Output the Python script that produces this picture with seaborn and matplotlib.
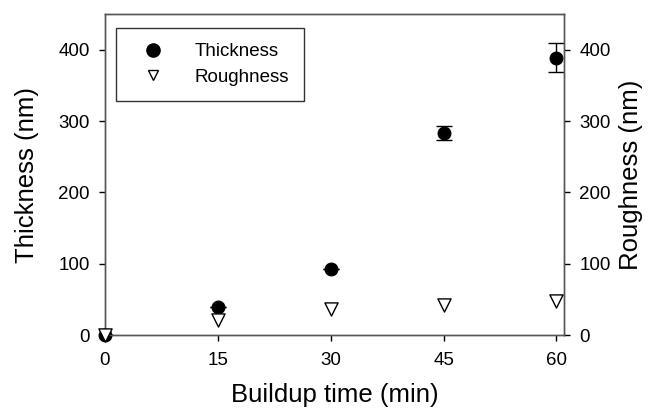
import numpy as np
import pandas as pd
import matplotlib
matplotlib.use("Agg")
import matplotlib.pyplot as plt
import seaborn as sns
from matplotlib.lines import Line2D

# datos
tiempo = [0, 15, 30, 45, 60]
espesor = [0, 39, 92, 283, 389]
espesor_err = [0, 0, 0, 10, 21]
rugosidad = [0, 21, 37, 42, 47]

df = pd.DataFrame({"tiempo": tiempo, "espesor": espesor,
                   "err": espesor_err, "rugosidad": rugosidad})

sns.set_style("ticks")
plt.rcParams["font.family"] = ["Liberation Sans", "DejaVu Sans"]
plt.rcParams["text.color"] = "black"
plt.rcParams["axes.labelcolor"] = "black"
plt.rcParams["xtick.color"] = "black"
plt.rcParams["ytick.color"] = "black"

fig = plt.figure(figsize=(6.59, 4.15), dpi=100)
ax = fig.add_axes([105 / 659, 1 - 335 / 415, 459 / 659, 321 / 415])
ax2 = ax.twinx()

ax.errorbar(df["tiempo"], df["espesor"], yerr=df["err"], fmt="none",
            ecolor="black", elinewidth=1, capsize=6, capthick=1, zorder=2)
sns.scatterplot(data=df, x="tiempo", y="espesor", ax=ax, color="black",
                marker="o", s=85, edgecolor="black", linewidth=0.8,
                zorder=3, clip_on=False)
sns.scatterplot(data=df, x="tiempo", y="rugosidad", ax=ax2, facecolor="white",
                marker="v", s=90, edgecolor="black", linewidth=1.0,
                zorder=4, clip_on=False)

for a in (ax, ax2):
    a.set_xlim(0, 61)
    a.set_ylim(0, 450)
    a.set_yticks([0, 100, 200, 300, 400])
    a.tick_params(labelsize=13.5, length=4, width=1, color="black",
                  labelcolor="black", direction="out", pad=7)
    for s in a.spines.values():
        s.set_linewidth(1)
        s.set_color("#555555")
ax.set_xticks([0, 15, 30, 45, 60])
ax.tick_params(axis="x", pad=8)
ax.spines["top"].set_visible(True)
ax2.spines["top"].set_visible(True)
ax2.spines["right"].set_visible(True)

ax.set_xlabel("Buildup time (min)", fontsize=18.5, labelpad=10, color="black")
ax.set_ylabel("Thickness (nm)", fontsize=18.5, labelpad=14, color="black")
ax2.set_ylabel("Roughness (nm)", fontsize=18.5, labelpad=6, color="black")

handles = [Line2D([], [], marker="o", color="black", linestyle="none",
                  markersize=9.5),
           Line2D([], [], marker="v", markerfacecolor="white",
                  markeredgecolor="black", linestyle="none", markersize=7.5)]
leg = ax2.legend(handles, ["Thickness", "Roughness"], loc="upper left",
                 bbox_to_anchor=(0.024, 0.956), fontsize=13.5, frameon=True,
                 fancybox=False, edgecolor="black", borderpad=0.8,
                 handlelength=2.3, handletextpad=1.07, labelspacing=0.45,
                 borderaxespad=0)
leg.get_frame().set_linewidth(1)
for t in leg.get_texts():
    t.set_color("black")

fig.savefig("out.png", dpi=100)
